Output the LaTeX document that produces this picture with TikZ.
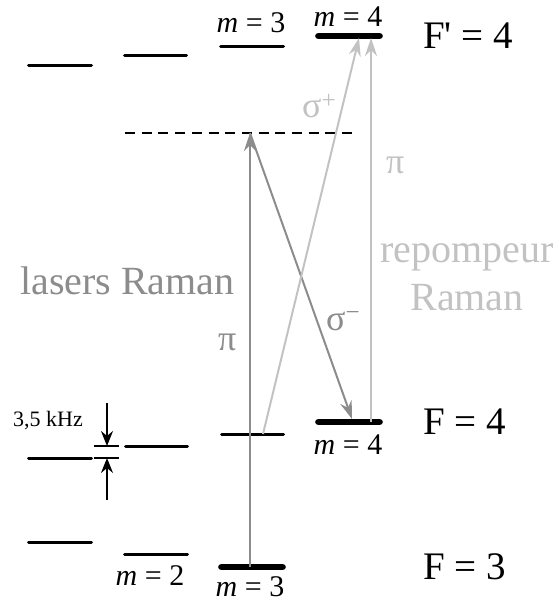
\documentclass[tikz,border=0pt]{standalone}
\usepackage{fontspec}
\setmainfont{Liberation Serif}[Ligatures=TeXOff]
\usetikzlibrary{arrows.meta, positioning, calc}
\definecolor{ramangray}{gray}{0.55}
\definecolor{repgray}{gray}{0.76}
\tikzset{
  level/.style={line width=3pt, line cap=round},
  mlevel/.style={line width=6.7pt, line cap=round},
  virtual/.style={line width=1.6pt, dash pattern=on 10pt off 6.7pt},
  raman/.style={-{Stealth[length=18pt,width=12pt,inset=6pt]},
    line width=2pt, draw=ramangray},
  repump/.style={-{Stealth[length=18pt,width=12pt,inset=6pt]},
    line width=2pt, draw=repgray},
  tick/.style={line width=1.3pt},
  dim/.style={-{Stealth[length=15pt,width=12pt,inset=5pt]}, line width=1.3pt},
  flabel/.style={inner sep=0pt, anchor=base west,
    font=\fontsize{39}{44}\selectfont},
  mlabel/.style={inner sep=0pt, anchor=base,
    font=\fontsize{30}{33}\selectfont},
  pol/.style={inner sep=0pt, anchor=base west,
    font=\fontsize{36}{40}\selectfont}
}
\newcommand{\mval}[1]{\textit{m} = #1}

\begin{document}
\begin{tikzpicture}[x=1pt,y=-1pt]
  \useasboundingbox (0,0) rectangle (558,601);

  % F' = 4
  \draw[level] (28.5,66) -- (91.5,66);
  \draw[level] (124.5,56) -- (186.5,56);
  \draw[level] (220.5,47) -- (283.5,47);
  \draw[mlevel] (318.5,36) -- (379.5,36);
  % virtual level
  \draw[virtual] (125,133) -- (355,133);
  % F = 4
  \draw[level] (28.5,458) -- (91.5,458);
  \draw[level] (125.5,446) -- (187.5,446);
  \draw[level] (221.5,434) -- (283.5,434);
  \draw[mlevel] (318.5,422) -- (379.5,422);
  % F = 3
  \draw[level] (28.5,542) -- (91.5,542);
  \draw[level] (124.5,554) -- (187.5,554);
  \draw[mlevel] (221.5,567) -- (282.5,567);

  \coordinate (f3m3) at (250,567);
  \coordinate (virt) at (250,133);
  \coordinate (f4m3) at (263,434);
  \coordinate (f4m4a) at (352,419);
  \coordinate (f4m4b) at (371,422);
  \coordinate (e4a) at (359,38);
  \coordinate (e4b) at (371,38);

  % lasers Raman
  \draw[raman] (f3m3) -- (virt);
  \draw[raman] (virt) -- (f4m4a);
  % repompeur
  \draw[repump] (f4m3) -- (e4a);
  \draw[repump] (f4m4b) -- (e4b);

  % 3,5 kHz splitting
  \coordinate (dtop) at (107,403);
  \coordinate (dhi) at (107,446);
  \coordinate (dlo) at (107,458);
  \coordinate (dbot) at (107,500);
  \draw[tick] (94,446) -- (119,446);
  \draw[tick] (94,458) -- (119,458);
  \draw[dim] (dtop) -- (dhi);
  \draw[dim] (dbot) -- (dlo);
  \node[inner sep=0pt, anchor=base west, font=\fontsize{22}{24}\selectfont]
    (split) at (13,426) {3,5 kHz};

  % labels
  \node[flabel] (fp4) at (423,49) {F' = 4};
  \node[flabel] (f4) at (423,434) {F = 4};
  \node[flabel] (f3) at (423,579) {F = 3};
  \node[mlabel] (mt3) at (251,33) {\mval{3}};
  \node[mlabel] (mt4) at (348,27) {\mval{4}};
  \node[mlabel] (mb4) at (348,454) {\mval{4}};
  \node[mlabel] (mb2) at (150,585) {\mval{2}};
  \node[mlabel] (mb3) at (250,596) {\mval{3}};

  \node[flabel, font=\fontsize{40}{44}\selectfont, text=ramangray]
    (lasers) at (20,294) {lasers Raman};
  \node[pol, text=ramangray] (pil) at (218,350) {π};
  \node[pol, text=ramangray] (sigm) at (326,330) {σ\textsuperscript{−}};
  \node[pol, text=repgray] (sigp) at (302,118) {σ\textsuperscript{+}};
  \node[pol, text=repgray] (pir) at (386,174) {π};
  \node[inner sep=0pt, align=center, text=repgray,
    font=\fontsize{40}{48}\selectfont] (rep) at (467,277) {repompeur\\Raman};
\end{tikzpicture}
\end{document}
